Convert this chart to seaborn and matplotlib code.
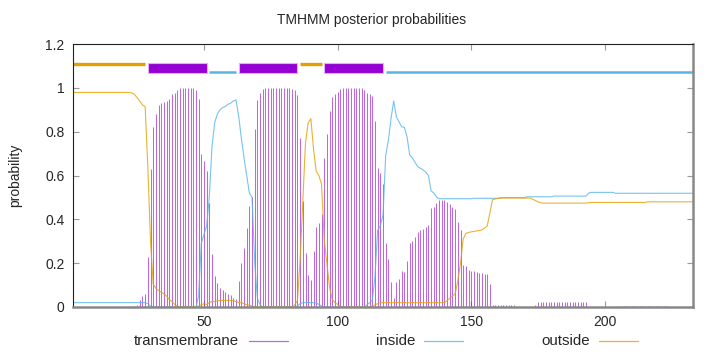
import numpy as np
import pandas as pd
import matplotlib
matplotlib.use('Agg')
import matplotlib.pyplot as plt
from matplotlib.lines import Line2D
from matplotlib.ticker import FuncFormatter
import seaborn as sns

# protein length and predicted topology (top bar)
seq_len = 233
outside_segs = [(1, 28), (86, 94)]
tm_segs = [(29, 51), (63, 85), (95, 117)]
inside_segs = [(52, 62), (118, 233)]

# posterior probabilities per residue
tm_prob = ([0.0] * 23 +
           [0.005, 0.01, 0.03, 0.05, 0.06, 0.23, 0.63, 0.82, 0.88, 0.92,
            0.93, 0.935, 0.94, 0.95, 0.97, 0.975, 0.99, 0.997, 0.999, 0.999,
            0.999, 0.998, 0.999, 0.99, 0.95, 0.70, 0.665, 0.62, 0.473, 0.242,
            0.141, 0.108, 0.085, 0.078, 0.07, 0.059, 0.055, 0.04, 0.035, 0.118,
            0.2, 0.268, 0.362, 0.46, 0.503, 0.81, 0.944, 0.978, 0.996] +
           [0.999] * 10 +
           [0.995, 0.988, 0.967, 0.77, 0.484, 0.248, 0.146, 0.122, 0.257, 0.363,
            0.385, 0.423, 0.678, 0.789, 0.896, 0.96, 0.972, 0.982, 0.993] +
           [0.999] * 7 +
           [0.998, 0.99, 0.975, 0.97, 0.962, 0.85, 0.633, 0.61, 0.561, 0.29,
            0.217, 0.114, 0.04, 0.112, 0.126, 0.164, 0.16, 0.21, 0.293, 0.3,
            0.32, 0.344, 0.35, 0.355, 0.366, 0.374, 0.453, 0.455, 0.476, 0.488,
            0.488, 0.488, 0.48, 0.47, 0.457, 0.445, 0.389, 0.351, 0.19, 0.186,
            0.17, 0.164, 0.163, 0.161, 0.156, 0.153, 0.152, 0.15, 0.105] +
           [0.007] * 9 + [0.0] * 7 + [0.01] + [0.021] * 19 +
           [0.0] * 11 + [0.005] * 19 + [0.0] * 10)

inside_prob = ([0.02] * 28 + [0.015, 0.005] + [0.0] * 17 +
               [0.05, 0.29, 0.33, 0.37, 0.5, 0.73, 0.84, 0.88, 0.9, 0.91,
                0.915, 0.925, 0.93, 0.94, 0.945, 0.87, 0.77, 0.68, 0.6, 0.52,
                0.5, 0.2, 0.04, 0.01] +
               [0.0] * 13 + [0.005, 0.015] + [0.02] * 5 + [0.018, 0.012, 0.005] +
               [0.0] * 16 +
               [0.01, 0.02, 0.03, 0.14, 0.35, 0.37, 0.42, 0.69, 0.76, 0.86,
                0.94, 0.868, 0.845, 0.822, 0.82, 0.776, 0.693, 0.68, 0.66, 0.64,
                0.633, 0.625, 0.615, 0.6, 0.53, 0.52, 0.503] +
               [0.494] * 13 + [0.496] * 10 + [0.499] * 10 + [0.503] * 10 +
               [0.506] * 13 + [0.52] + [0.523] * 9 + [0.519] * 30)

outside_prob = ([0.979] * 22 +
                [0.977, 0.97, 0.955, 0.94, 0.922, 0.914, 0.64, 0.3, 0.105, 0.085,
                 0.075, 0.068, 0.06, 0.05, 0.035, 0.025, 0.012, 0.004] +
                [0.0] * 7 +
                [0.005, 0.01, 0.015, 0.012, 0.02, 0.025, 0.025, 0.028] +
                [0.03] * 5 +
                [0.028, 0.025, 0.02, 0.02, 0.015, 0.01, 0.008, 0.005, 0.002] +
                [0.0] * 14 +
                [0.01, 0.03, 0.22, 0.48, 0.75, 0.84, 0.86, 0.72, 0.62, 0.6,
                 0.56, 0.31, 0.2, 0.09, 0.035, 0.02, 0.012, 0.005] +
                [0.0] * 11 + [0.005, 0.01, 0.015] + [0.02] * 25 +
                [0.03, 0.04, 0.05, 0.06, 0.12, 0.2, 0.31, 0.336, 0.34, 0.343,
                 0.345, 0.347, 0.349, 0.352, 0.36, 0.37, 0.43, 0.49, 0.493, 0.495] +
                [0.497] * 12 + [0.492, 0.486, 0.48, 0.476] + [0.474] * 17 +
                [0.476] + [0.477] * 21 + [0.48] * 18)

df = pd.DataFrame({'pos': np.arange(1, seq_len + 1),
                   'transmembrane': tm_prob,
                   'inside': inside_prob,
                   'outside': outside_prob})

c_tm = '#9400D3'
c_in = '#56B4E9'
c_out = '#E69F00'

sns.set_style('ticks')
plt.rcParams['font.family'] = ['Liberation Sans', 'DejaVu Sans']
plt.rcParams['font.size'] = 10

fig = plt.figure(figsize=(7.2, 3.52), dpi=100)
ax = fig.add_axes([73 / 720, 45 / 352, 620 / 720, 263 / 352])

# transmembrane as impulses, inside/outside as lines
ax.vlines(df['pos'], 0, df['transmembrane'], color=c_tm, alpha=0.6, lw=0.75)
sns.lineplot(data=df, x='pos', y='inside', color=c_in, lw=0.8, alpha=0.8, ax=ax)
sns.lineplot(data=df, x='pos', y='outside', color=c_out, lw=0.8, alpha=0.8, ax=ax)

# topology bar on top
for a, b in outside_segs:
    ax.plot([a, b], [1.11, 1.11], color=c_out, lw=2.4, solid_capstyle='butt')
for a, b in inside_segs:
    ax.plot([a, b], [1.07, 1.07], color=c_in, lw=1.8, solid_capstyle='butt')
ax.broken_barh([(a, b - a) for a, b in tm_segs], (1.066, 0.046),
               facecolor=c_tm, edgecolor='#e0b0f0', lw=0.8)

ax.set_xlim(1, seq_len)
ax.set_ylim(0, 1.2)
ax.set_xticks([50, 100, 150, 200])
ax.set_yticks([0, 0.2, 0.4, 0.6, 0.8, 1.0, 1.2])
ax.yaxis.set_major_formatter(FuncFormatter(lambda v, p: '%g' % round(v, 2)))
ax.set_xlabel('')
ax.set_ylabel('')
ax.tick_params(direction='in', length=4, width=0.8, color='#999999',
               top=True, right=True, labelsize=10, pad=6)

for s in ['left', 'top']:
    ax.spines[s].set_color('#222222')
    ax.spines[s].set_linewidth(0.8)
for s in ['right', 'bottom']:
    ax.spines[s].set_color('#888888')
    ax.spines[s].set_linewidth(1.8)

fig.text(372 / 720, 1 - 20 / 352, 'TMHMM posterior probabilities',
         ha='center', va='center', fontsize=10)
fig.text(15 / 720, 1 - 175 / 352, 'probability', rotation=90,
         ha='center', va='center', fontsize=10)

# legend in gnuplot style: label then sample
ly = 1 - 341 / 352
legend_items = [('transmembrane', c_tm, 0.6, 239, 249, 288),
                ('inside', c_in, 0.8, 415, 424, 463),
                ('outside', c_out, 0.8, 590, 599, 638)]
for label, col, al, tx, x0, x1 in legend_items:
    fig.text(tx / 720, ly, label, ha='right', va='center', fontsize=10.8)
    fig.add_artist(Line2D([x0 / 720, x1 / 720], [ly, ly], color=col,
                          alpha=al, lw=0.9))

fig.savefig('out.png', dpi=100)
